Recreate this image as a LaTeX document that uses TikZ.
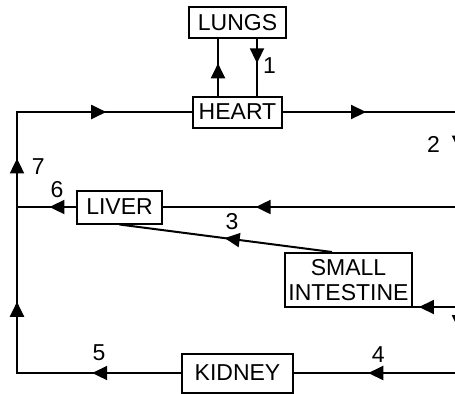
\documentclass[tikz,border=0pt]{standalone}
\usepackage{fontspec}
\setmainfont{Liberation Sans}
\usetikzlibrary{arrows.meta, decorations.markings}

\begin{document}
\begin{tikzpicture}[
    x=0.5pt, y=-0.5pt,
    line width=1pt,
    every node/.style={font=\fontsize{11.5}{12.6}\selectfont},
    organ/.style={draw, line width=1pt, inner sep=0pt, minimum height=15.5pt, align=center},
    num/.style={inner sep=0pt},
    flow/.style={postaction={decorate, decoration={markings,
        mark=at position #1 with {\arrow{Triangle[length=7.5pt, width=7pt]}}}}},
]
    \useasboundingbox (0,0) rectangle (455,393);
    \clip (0,0) rectangle (455,393);

    \node[organ, minimum width=48.5pt] (lungs) at (237.5,22.5) {LUNGS};
    \node[organ, minimum width=44.5pt] (heart) at (237.5,112) {HEART};
    \node[organ, minimum width=42.5pt, minimum height=16.5pt] (liver) at (119.5,207) {LIVER};
    \node[organ, minimum width=63.5pt, minimum height=27pt] (si) at (348.5,280) {SMALL\\INTESTINE};
    \node[organ, minimum width=55.5pt, minimum height=19.5pt] (kidney) at (237.5,373) {KIDNEY};

    % corners of the loop
    \coordinate (r1) at (459,112);
    \coordinate (r2) at (459,207);
    \coordinate (r3) at (459,307);
    \coordinate (r4) at (459,373);
    \coordinate (l1) at (17,112);
    \coordinate (l2) at (17,207);
    \coordinate (l3) at (17,373);

    % heart <-> lungs
    \draw[flow=0.57] ([xshift=-9.75pt]heart.north) -- ([xshift=-9.75pt]lungs.south);
    \draw[flow=0.43] ([xshift=9.75pt]lungs.south) -- ([xshift=9.75pt]heart.north)
        node[pos=0.47, right=2.5pt, num]{1};

    % heart -> right side
    \draw[flow=0.19, flow=0.491, flow=0.902] (heart) -- (r1) -- (r4)
        node[pos=0.126, left=9pt, num]{2};

    % branches to the organs
    \draw[flow=0.687] (r2) -- (liver);
    \draw[flow=0.87] (r3) -- (si.east |- r3);
    \draw[flow=0.55] (r4) -- (kidney)
        node[pos=0.49, above=5pt, num]{4};

    % small intestine -> liver
    \draw[flow=0.505] ([xshift=-8.25pt]si.north) -- (liver.south)
        node[pos=0.47, above=4pt, num]{3};

    % liver -> left side
    \draw[flow=0.45] (liver) -- (l2)
        node[pos=0.32, above=4pt, num]{6};

    % kidney -> left side -> heart
    \draw[flow=0.148, flow=0.392, flow=0.631, flow=0.857]
        (kidney) -- node[pos=0.5, above=5.75pt, num]{5} (l3)
        -- node[pos=0.79, right=7pt, num]{7} (l1) -- (heart);
\end{tikzpicture}
\end{document}
